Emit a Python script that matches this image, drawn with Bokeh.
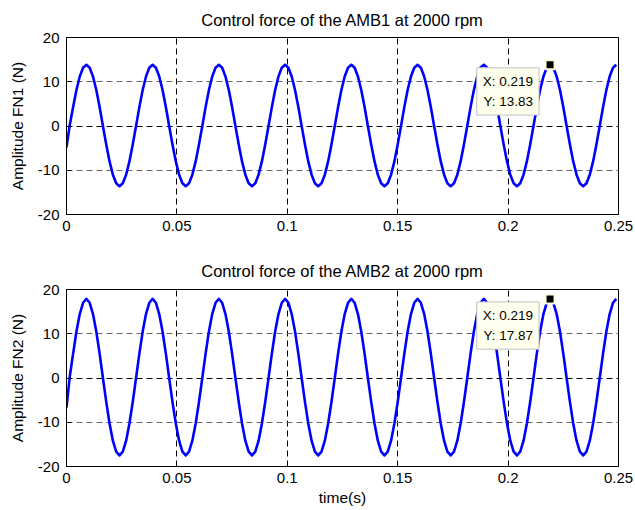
import numpy as np
from bokeh.plotting import figure
from bokeh.layouts import column
from bokeh.models import FixedTicker, Grid, Label, Range1d
from bokeh.embed import file_html
from bokeh.resources import INLINE

# sampling grid of the recorded signals (s)
time_s = np.arange(167) * 0.0015

# control force of AMB1 (N)
fn1 = [
    -4.8, 0.3, 4.27, 8.13, 11.19, 13.15, 13.83, 13.15, 11.19, 8.13, 4.27, 0.0, -4.2, -8.0, -11.0, -12.93, -13.6, -12.93, -11.0, -8.0,
    -4.2, 0.0, 4.27, 8.13, 11.19, 13.15, 13.83, 13.15, 11.19, 8.13, 4.27, 0.0, -4.2, -8.0, -11.0, -12.93, -13.6, -12.93, -11.0, -8.0,
    -4.2, 0.0, 4.27, 8.13, 11.19, 13.15, 13.83, 13.15, 11.19, 8.13, 4.27, 0.0, -4.2, -8.0, -11.0, -12.93, -13.6, -12.93, -11.0, -8.0,
    -4.2, 0.0, 4.27, 8.13, 11.19, 13.15, 13.83, 13.15, 11.19, 8.13, 4.27, 0.0, -4.2, -8.0, -11.0, -12.93, -13.6, -12.93, -11.0, -8.0,
    -4.2, 0.0, 4.27, 8.13, 11.19, 13.15, 13.83, 13.15, 11.19, 8.13, 4.27, 0.0, -4.2, -8.0, -11.0, -12.93, -13.6, -12.93, -11.0, -8.0,
    -4.2, 0.0, 4.27, 8.13, 11.19, 13.15, 13.83, 13.15, 11.19, 8.13, 4.27, 0.0, -4.2, -8.0, -11.0, -12.93, -13.6, -12.93, -11.0, -8.0,
    -4.2, 0.0, 4.27, 8.13, 11.19, 13.15, 13.83, 13.15, 11.19, 8.13, 4.27, 0.0, -4.2, -8.0, -11.0, -12.93, -13.6, -12.93, -11.0, -8.0,
    -4.2, 0.0, 4.27, 8.13, 11.19, 13.15, 13.83, 13.15, 11.19, 8.13, 4.27, 0.0, -4.2, -8.0, -11.0, -12.93, -13.6, -12.93, -11.0, -8.0,
    -4.2, 0.0, 4.27, 8.13, 11.19, 13.15, 13.83,
]

# control force of AMB2 (N)
fn2 = [
    -6.7, 0.4, 5.52, 10.5, 14.46, 17.0, 17.87, 17.0, 14.46, 10.5, 5.52, 0.0, -5.41, -10.29, -14.16, -16.64, -17.5, -16.64, -14.16, -10.29,
    -5.41, 0.0, 5.52, 10.5, 14.46, 17.0, 17.87, 17.0, 14.46, 10.5, 5.52, 0.0, -5.41, -10.29, -14.16, -16.64, -17.5, -16.64, -14.16, -10.29,
    -5.41, 0.0, 5.52, 10.5, 14.46, 17.0, 17.87, 17.0, 14.46, 10.5, 5.52, 0.0, -5.41, -10.29, -14.16, -16.64, -17.5, -16.64, -14.16, -10.29,
    -5.41, 0.0, 5.52, 10.5, 14.46, 17.0, 17.87, 17.0, 14.46, 10.5, 5.52, 0.0, -5.41, -10.29, -14.16, -16.64, -17.5, -16.64, -14.16, -10.29,
    -5.41, 0.0, 5.52, 10.5, 14.46, 17.0, 17.87, 17.0, 14.46, 10.5, 5.52, 0.0, -5.41, -10.29, -14.16, -16.64, -17.5, -16.64, -14.16, -10.29,
    -5.41, 0.0, 5.52, 10.5, 14.46, 17.0, 17.87, 17.0, 14.46, 10.5, 5.52, 0.0, -5.41, -10.29, -14.16, -16.64, -17.5, -16.64, -14.16, -10.29,
    -5.41, 0.0, 5.52, 10.5, 14.46, 17.0, 17.87, 17.0, 14.46, 10.5, 5.52, 0.0, -5.41, -10.29, -14.16, -16.64, -17.5, -16.64, -14.16, -10.29,
    -5.41, 0.0, 5.52, 10.5, 14.46, 17.0, 17.87, 17.0, 14.46, 10.5, 5.52, 0.0, -5.41, -10.29, -14.16, -16.64, -17.5, -16.64, -14.16, -10.29,
    -5.41, 0.0, 5.52, 10.5, 14.46, 17.0, 17.87,
]

x_ticks = [0, 0.05, 0.1, 0.15, 0.2, 0.25]
x_tick_labels = ["0", "0.05", "0.1", "0.15", "0.2", "0.25"]
y_ticks = [-20, -10, 0, 10, 20]
y_tick_labels = ["-20", "-10", "0", "10", "20"]
x_grid_at = [0.05, 0.1, 0.15, 0.2]
y_grid_dark = [0]
y_grid_light = [-10, 10]

titles = ["Control force of the AMB1 at 2000 rpm", "Control force of the AMB2 at 2000 rpm"]
ylabels = ["Amplitude FN1 (N)", "Amplitude FN2 (N)"]
xlabel = "time(s)"

tip_x = 0.219
tip_y = [13.83, 17.87]

FONT = "Liberation Sans"


def make(idx, y, height, top, bottom, title_standoff, with_xlabel):
    p = figure(width=635, height=height, output_backend="svg", toolbar_location=None,
               x_range=Range1d(0, 0.25), y_range=Range1d(-20, 20),
               min_border_left=66, min_border_right=17,
               min_border_top=top, min_border_bottom=bottom,
               title=titles[idx])
    p.background_fill_color = "white"
    p.border_fill_color = "white"
    p.outline_line_color = "black"
    p.outline_line_width = 1
    p.outline_line_alpha = 1.0

    p.title.text_font = FONT
    p.title.text_font_size = "16.5px"
    p.title.text_font_style = "normal"
    p.title.text_color = "black"
    p.title.text_line_height = 1.0
    p.title.align = "center"
    p.title.standoff = title_standoff

    p.xgrid.visible = False
    p.ygrid.visible = False
    p.add_layout(Grid(dimension=0, ticker=FixedTicker(ticks=x_grid_at),
                      grid_line_color="black", grid_line_dash="6 4", grid_line_width=1))
    p.add_layout(Grid(dimension=1, ticker=FixedTicker(ticks=y_grid_dark),
                      grid_line_color="black", grid_line_dash="6 4", grid_line_width=1))
    p.add_layout(Grid(dimension=1, ticker=FixedTicker(ticks=y_grid_light),
                      grid_line_color="#666666", grid_line_dash="6 4", grid_line_width=1))

    for ax in (p.xaxis, p.yaxis):
        ax.major_label_text_font = FONT
        ax.major_label_text_font_size = "15px"
        ax.major_label_text_color = "black"
        ax.axis_line_color = "black"
        ax.major_tick_line_color = "black"
        ax.major_tick_in = 5
        ax.major_tick_out = 0
        ax.minor_tick_line_color = None
        ax.axis_label_text_font = FONT
        ax.axis_label_text_font_size = "15.5px"
        ax.axis_label_text_font_style = "normal"
        ax.axis_label_text_color = "black"

    p.xaxis.ticker = FixedTicker(ticks=x_ticks)
    p.xaxis.major_label_overrides = {t: s for t, s in zip(x_ticks, x_tick_labels)}
    p.xaxis.major_label_standoff = 6
    p.yaxis.ticker = FixedTicker(ticks=y_ticks)
    p.yaxis.major_label_overrides = {t: s for t, s in zip(y_ticks, y_tick_labels)}
    p.yaxis.major_label_standoff = 7
    p.yaxis.axis_label = ylabels[idx]
    p.yaxis.axis_label_standoff = 9
    if with_xlabel:
        p.xaxis.axis_label = xlabel
        p.xaxis.axis_label_standoff = 3

    p.line(time_s, y, line_color="#0000FF", line_width=2.6, line_join="round")

    p.scatter([tip_x], [tip_y[idx]], marker="square", size=9, fill_color="black",
              line_color="#FFFFE0", line_width=2)
    p.add_layout(Label(x=tip_x, y=tip_y[idx], x_offset=-11, y_offset=-3,
                       text=f"X: {tip_x}\nY: {tip_y[idx]}",
                       text_font=FONT, text_font_size="13.5px", text_color="black",
                       text_align="right", text_baseline="top", text_line_height=1.35,
                       background_fill_color="#FFFFED", border_line_color="#C0C0C0",
                       border_line_width=1, padding=6))
    return p


p1 = make(0, fn1, 248, 37, 34, 17, False)
p2 = make(1, fn2, 262, 41, 44, 19, True)
layout = column(p1, p2, spacing=0)

open("out.html", "w").write(file_html(layout, INLINE))
